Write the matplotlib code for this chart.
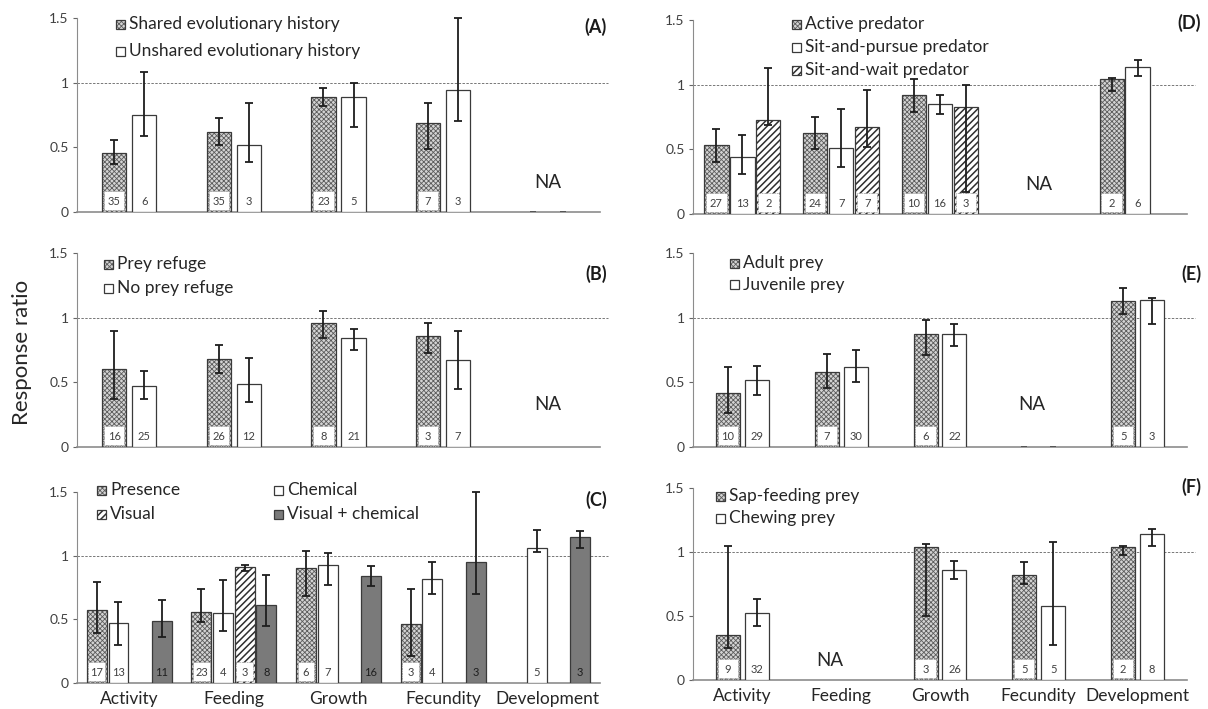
import numpy as np
import matplotlib
matplotlib.use('Agg')
import matplotlib.pyplot as plt
from matplotlib.patches import Rectangle

plt.rcParams['font.family'] = ['Lato', 'DejaVu Sans']
plt.rcParams['hatch.linewidth'] = 0.6

nan = np.nan
categories = ['Activity', 'Feeding', 'Growth', 'Fecundity', 'Development']

# ---------------- Panel A ----------------
a_names = ['Shared evolutionary history', 'Unshared evolutionary history']
a_shared = [0.46, 0.62, 0.89, 0.69, 0]
a_shared_lo = [0.37, 0.52, 0.82, 0.49, nan]
a_shared_hi = [0.56, 0.73, 0.96, 0.84, nan]
a_shared_n = [35, 35, 23, 7, None]
a_unshared = [0.75, 0.52, 0.89, 0.94, 0]
a_unshared_lo = [0.59, 0.39, 0.66, 0.70, nan]
a_unshared_hi = [1.08, 0.84, 1.00, 1.50, nan]
a_unshared_n = [6, 3, 5, 3, None]

# ---------------- Panel B ----------------
b_names = ['Prey refuge', 'No prey refuge']
b_refuge = [0.60, 0.68, 0.96, 0.86, nan]
b_refuge_lo = [0.37, 0.57, 0.84, 0.73, nan]
b_refuge_hi = [0.90, 0.79, 1.05, 0.96, nan]
b_refuge_n = [16, 26, 8, 3, None]
b_norefuge = [0.47, 0.49, 0.84, 0.67, nan]
b_norefuge_lo = [0.37, 0.35, 0.75, 0.45, nan]
b_norefuge_hi = [0.59, 0.69, 0.91, 0.90, nan]
b_norefuge_n = [25, 12, 21, 7, None]

# ---------------- Panel C ----------------
c_names = ['Presence', 'Chemical', 'Visual', 'Visual + chemical']
c_presence = [0.57, 0.56, 0.90, 0.46, nan]
c_presence_lo = [0.39, 0.48, 0.68, 0.21, nan]
c_presence_hi = [0.79, 0.74, 1.04, 0.74, nan]
c_presence_n = [17, 23, 6, 3, None]
c_chemical = [0.47, 0.55, 0.93, 0.82, 1.06]
c_chemical_lo = [0.30, 0.41, 0.77, 0.70, 1.03]
c_chemical_hi = [0.64, 0.81, 1.02, 0.95, 1.20]
c_chemical_n = [13, 4, 7, 4, 5]
c_visual = [nan, 0.91, nan, nan, nan]
c_visual_lo = [nan, 0.88, nan, nan, nan]
c_visual_hi = [nan, 0.93, nan, nan, nan]
c_visual_n = [None, 3, None, None, None]
c_viscem = [0.49, 0.61, 0.84, 0.95, 1.15]
c_viscem_lo = [0.36, 0.45, 0.76, 0.70, 1.06]
c_viscem_hi = [0.65, 0.85, 0.92, 1.50, 1.19]
c_viscem_n = [11, 8, 16, 3, 3]

# ---------------- Panel D ----------------
d_names = ['Active predator', 'Sit-and-pursue predator', 'Sit-and-wait predator']
d_active = [0.53, 0.63, 0.92, nan, 1.04]
d_active_lo = [0.40, 0.50, 0.79, nan, 0.95]
d_active_hi = [0.66, 0.75, 1.04, nan, 1.05]
d_active_n = [27, 24, 10, None, 2]
d_pursue = [0.44, 0.51, 0.85, nan, 1.14]
d_pursue_lo = [0.31, 0.36, 0.77, nan, 1.07]
d_pursue_hi = [0.61, 0.81, 0.92, nan, 1.19]
d_pursue_n = [13, 7, 16, None, 6]
d_wait = [0.73, 0.67, 0.83, nan, nan]
d_wait_lo = [0.69, 0.52, 0.17, nan, nan]
d_wait_hi = [1.13, 0.96, 1.00, nan, nan]
d_wait_n = [2, 7, 3, None, None]

# ---------------- Panel E ----------------
e_names = ['Adult prey', 'Juvenile prey']
e_adult = [0.42, 0.58, 0.87, 0, 1.13]
e_adult_lo = [0.26, 0.46, 0.71, nan, 1.03]
e_adult_hi = [0.62, 0.72, 0.98, nan, 1.23]
e_adult_n = [10, 7, 6, None, 5]
e_juv = [0.52, 0.62, 0.87, 0, 1.14]
e_juv_lo = [0.40, 0.50, 0.78, nan, 0.95]
e_juv_hi = [0.63, 0.75, 0.95, nan, 1.15]
e_juv_n = [29, 30, 22, None, 3]

# ---------------- Panel F ----------------
f_names = ['Sap-feeding prey', 'Chewing prey']
f_sap = [0.35, nan, 1.04, 0.82, 1.04]
f_sap_lo = [0.25, nan, 0.50, 0.75, 0.98]
f_sap_hi = [1.05, nan, 1.06, 0.92, 1.05]
f_sap_n = [9, None, 3, 5, 2]
f_chew = [0.52, nan, 0.86, 0.58, 1.14]
f_chew_lo = [0.42, nan, 0.79, 0.27, 1.05]
f_chew_hi = [0.63, nan, 0.93, 1.08, 1.18]
f_chew_n = [32, None, 26, 5, 8]

W, H = 1208, 709
fig = plt.figure(figsize=(W / 100, H / 100), dpi=100)


def frac_rect(x0, y_top, x1, y_bot):
    return [x0 / W, 1 - y_bot / H, (x1 - x0) / W, (y_bot - y_top) / H]


EDGE = '#3a3a3a'
STYLES = {
    'wave': dict(face='#d4d4d4', hatch='xxxxxxx', hcolor='#5c5c5c', hlw=0.6),
    'white': dict(face='white', hatch=None, hcolor=EDGE, hlw=0.6),
    'diag': dict(face='white', hatch='/////', hcolor='#2e2e2e', hlw=1.1),
    'dark': dict(face='#7a7a7a', hatch=None, hcolor=EDGE, hlw=0.6),
}


def draw_bar(ax, x, h, w, style):
    st = STYLES[style]
    if h == 0:
        # empty (zero) bar shows as a short dash on the axis
        ax.bar(x, 0.006, w * 0.25, color='#555555', linewidth=0, zorder=3)
        return
    if st['hatch']:
        with plt.rc_context({'hatch.linewidth': st['hlw']}):
            ax.bar(x, h, w, color=st['face'], edgecolor=st['hcolor'],
                   hatch=st['hatch'], linewidth=0, zorder=3)
        ax.bar(x, h, w, fill=False, edgecolor=EDGE, linewidth=0.9, zorder=3)
    else:
        ax.bar(x, h, w, color=st['face'], edgecolor=EDGE, linewidth=0.9,
               zorder=3)


def panel(rect, series, width, step, label, label_xy, legend, na=None,
          xlabels=False):
    ax = fig.add_axes(frac_rect(*rect))
    k = len(series)
    x = np.arange(len(categories))
    for i, (vals, lo, hi, ns, style) in enumerate(series):
        off = (i - (k - 1) / 2) * step
        for j in range(len(categories)):
            v = vals[j]
            if v is None or np.isnan(v):
                continue
            xx = x[j] + off
            draw_bar(ax, xx, v, width, style)
            if not np.isnan(lo[j]):
                ax.errorbar(xx, v, yerr=[[v - lo[j]], [hi[j] - v]], fmt='none',
                            ecolor='#1e1e1e', elinewidth=1.3, capsize=3,
                            capthick=1.3, zorder=5, clip_on=False)
            if ns[j] is not None:
                if style in ('wave', 'diag'):
                    ax.add_patch(Rectangle((xx - width * 0.42, 0.012),
                                           width * 0.84, 0.15,
                                           facecolor='white', edgecolor='#9a9a9a',
                                           linewidth=0.6, linestyle=(0, (1, 1)),
                                           zorder=4))
                col = '#1e1e1e' if style == 'dark' else '#404040'
                ax.text(xx, 0.085, str(ns[j]), ha='center', va='center',
                        fontsize=8, color=col, zorder=6)
    ax.set_xlim(-0.5, len(categories) - 0.5)
    ax.set_ylim(0, 1.5)
    ax.set_yticks([0, 0.5, 1, 1.5])
    ax.set_yticklabels(['0', '0.5', '1', '1.5'])
    ax.tick_params(axis='y', labelsize=10, colors='#666666', length=3,
                   width=0.8, pad=3)
    ax.tick_params(axis='y', labelcolor='#404040')
    ax.set_xticks(x)
    if xlabels:
        ax.set_xticklabels(categories, fontsize=12.5, color='#262626')
    else:
        ax.set_xticklabels([])
    ax.tick_params(axis='x', length=0, pad=6)
    for s in ('top', 'right'):
        ax.spines[s].set_visible(False)
    ax.spines['left'].set_color('#8c8c8c')
    ax.spines['left'].set_linewidth(0.8)
    ax.spines['bottom'].set_color('#8c8c8c')
    ax.spines['bottom'].set_linewidth(1.2)
    ax.plot([0, 1.016], [1, 1], transform=ax.get_yaxis_transform(),
            color='#777777', linestyle=(0, (2.5, 1.5)), linewidth=0.7,
            clip_on=False, zorder=1)
    ax.patch.set_alpha(0)
    # panel label
    fig.text(label_xy[0] / W, 1 - label_xy[1] / H, label, ha='right',
             va='center', fontsize=13, fontweight='bold', color='#1a1a1a')
    # legend
    for (lx, ly, name, style) in legend:
        st = STYLES[style]
        sq = 9
        with plt.rc_context({'hatch.linewidth': st['hlw']}):
            r = Rectangle((lx / W, 1 - (ly + sq / 2) / H), sq / W, sq / H,
                          transform=fig.transFigure, facecolor=st['face'],
                          edgecolor=st['hcolor'] if st['hatch'] else EDGE,
                          hatch=st['hatch'],
                          linewidth=0 if st['hatch'] else 0.9)
        fig.add_artist(r)
        if st['hatch']:
            fig.add_artist(Rectangle((lx / W, 1 - (ly + sq / 2) / H), sq / W,
                                     sq / H, transform=fig.transFigure,
                                     fill=False, edgecolor=EDGE, linewidth=0.9))
        fig.text((lx + sq + 4) / W, 1 - ly / H, name, ha='left', va='center',
                 fontsize=12.5, color='#262626')
    if na is not None:
        ax.text(na[0], na[1], 'NA', ha='center', va='center', fontsize=13.5,
                color='#262626')
    return ax


# Left column
panel((77, 18, 600, 212),
      [(a_shared, a_shared_lo, a_shared_hi, a_shared_n, 'wave'),
       (a_unshared, a_unshared_lo, a_unshared_hi, a_unshared_n, 'white')],
      0.23, 0.287, '(A)', (607, 27),
      [(116, 24, a_names[0], 'wave'), (116, 51, a_names[1], 'white')],
      na=(4, 0.23))

panel((77, 253, 600, 447),
      [(b_refuge, b_refuge_lo, b_refuge_hi, b_refuge_n, 'wave'),
       (b_norefuge, b_norefuge_lo, b_norefuge_hi, b_norefuge_n, 'white')],
      0.23, 0.287, '(B)', (607, 274),
      [(104, 264, b_names[0], 'wave'), (104, 288, b_names[1], 'white')],
      na=(4, 0.33))

panel((77, 492, 600, 683),
      [(c_presence, c_presence_lo, c_presence_hi, c_presence_n, 'wave'),
       (c_chemical, c_chemical_lo, c_chemical_hi, c_chemical_n, 'white'),
       (c_visual, c_visual_lo, c_visual_hi, c_visual_n, 'diag'),
       (c_viscem, c_viscem_lo, c_viscem_hi, c_viscem_n, 'dark')],
      0.19, 0.207, '(C)', (607, 500),
      [(97, 490, c_names[0], 'wave'), (274, 490, c_names[1], 'white'),
       (97, 514, c_names[2], 'diag'), (274, 514, c_names[3], 'dark')],
      xlabels=True)

# Right column
panel((693, 20, 1187, 214),
      [(d_active, d_active_lo, d_active_hi, d_active_n, 'wave'),
       (d_pursue, d_pursue_lo, d_pursue_hi, d_pursue_n, 'white'),
       (d_wait, d_wait_lo, d_wait_hi, d_wait_n, 'diag')],
      0.245, 0.263, '(D)', (1201, 23),
      [(792, 24, d_names[0], 'wave'), (792, 47, d_names[1], 'white'),
       (792, 70, d_names[2], 'diag')],
      na=(3, 0.23))

panel((693, 253, 1187, 447),
      [(e_adult, e_adult_lo, e_adult_hi, e_adult_n, 'wave'),
       (e_juv, e_juv_lo, e_juv_hi, e_juv_n, 'white')],
      0.243, 0.293, '(E)', (1201, 274),
      [(730, 263, e_names[0], 'wave'), (730, 285, e_names[1], 'white')],
      na=(2.93, 0.33))

panel((693, 488, 1187, 680),
      [(f_sap, f_sap_lo, f_sap_hi, f_sap_n, 'wave'),
       (f_chew, f_chew_lo, f_chew_hi, f_chew_n, 'white')],
      0.243, 0.293, '(F)', (1201, 487),
      [(716, 496, f_names[0], 'wave'), (716, 518, f_names[1], 'white')],
      na=(0.88, 0.15), xlabels=True)

fig.text(22 / W, 1 - 352 / H, 'Response ratio', rotation=90, ha='center',
         va='center', fontsize=16, color='#262626')

fig.savefig('out.png', dpi=100, facecolor='white')
